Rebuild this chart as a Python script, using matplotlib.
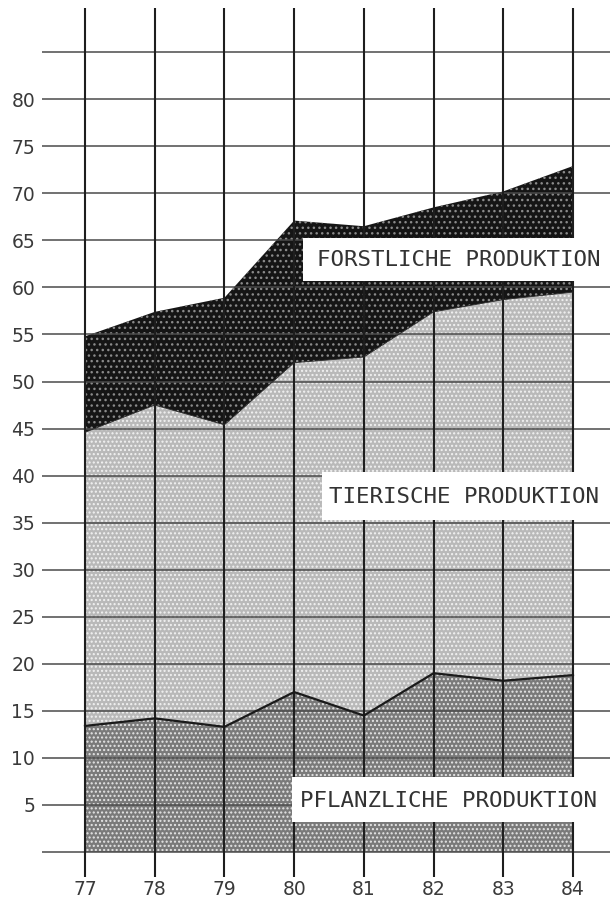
import matplotlib
matplotlib.use("Agg")
import matplotlib.pyplot as plt
from matplotlib.patches import Rectangle
import numpy as np

# ---- data ----
years = [77, 78, 79, 80, 81, 82, 83, 84]
year_labels = ["77", "78", "79", "80", "81", "82", "83", "84"]
pflanzlich_top = [13.4, 14.2, 13.3, 17.0, 14.5, 19.0, 18.2, 18.8]   # cumulative
tierisch_top = [44.6, 47.5, 45.4, 52.0, 52.6, 57.4, 58.7, 59.5]     # cumulative
forst_top = [54.8, 57.4, 58.9, 67.1, 66.5, 68.5, 70.2, 72.9]        # cumulative
y_ticks = [5, 10, 15, 20, 25, 30, 35, 40, 45, 50, 55, 60, 65, 70, 75, 80]
y_grid = [0, 5, 10, 15, 20, 25, 30, 35, 40, 45, 50, 55, 60, 65, 70, 75, 80, 85]
labels = ["FORSTLICHE PRODUKTION", "TIERISCHE PRODUKTION", "PFLANZLICHE PRODUKTION"]

W, H = 610, 901
fig = plt.figure(figsize=(W / 100, H / 100), dpi=100)
fig.patch.set_facecolor("white")

# pixel layout
px_left, px_right = 42, 610
px_bottom, px_top = 877, 5
ax = fig.add_axes([px_left / W, (H - px_bottom) / H,
                   (px_right - px_left) / W, (px_bottom - px_top) / H])

# mapping: 77 -> px 85, 84 -> px 573 ; 0 -> px 852, 9.41 px/unit
xs = (573 - 85) / 7.0
ys = 9.41
def dx(px):
    return 77 + (px - 85) / xs
def dy(py):
    return (852 - py) / ys

ax.set_xlim(dx(px_left), dx(px_right))
ax.set_ylim(dy(px_bottom), dy(px_top))
for s in ax.spines.values():
    s.set_visible(False)
ax.set_facecolor("white")

x = np.array(years, dtype=float)
zeros = np.zeros_like(x)
plt.rcParams["hatch.linewidth"] = 1.0

# fills
ax.fill_between(x, zeros, pflanzlich_top, facecolor="#7a7a7a", edgecolor="#e6e6e6",
                hatch="....", linewidth=0, zorder=1)
ax.fill_between(x, pflanzlich_top, tierisch_top, facecolor="#b9b9b9", edgecolor="#f2f2f2",
                hatch="....", linewidth=0, zorder=1)
ax.fill_between(x, tierisch_top, forst_top, facecolor="#151515", edgecolor="#8a8a8a",
                hatch="...", linewidth=0, zorder=1)

# grid
ax.hlines(y_grid, dx(px_left), dx(px_right), colors="#4a4a4a", linewidth=1.1, zorder=2)
ax.vlines(years, dy(px_bottom), dy(8), colors="#1e1e1e", linewidth=1.5, zorder=2)

# boundary line between pflanzliche and tierische
ax.plot(x, pflanzlich_top, color="#1a1a1a", linewidth=1.6, zorder=3)
ax.plot(x, tierisch_top, color="#2a2a2a", linewidth=0.6, zorder=3)

# ticks
ax.set_yticks(y_ticks)
ax.set_yticklabels([str(v) for v in y_ticks])
ax.set_xticks(years)
ax.set_xticklabels(year_labels)
ax.tick_params(axis="both", length=0, labelsize=13.5, colors="#3a3a3a")
ax.tick_params(axis="y", pad=5)
ax.tick_params(axis="x", pad=2)

# label boxes
mono = "DejaVu Sans Mono"
boxes = [
    (303, 238, 281, 317, 260),
    (322, 472, 520, 329, 497),
    (292, 777, 822, 300, 801),
]
for lab, (bx0, by0, by1, tx, ty) in zip(labels, boxes):
    r = Rectangle((dx(bx0), dy(by1)), dx(px_right) - dx(bx0), dy(by0) - dy(by1),
                  facecolor="white", edgecolor="none", zorder=5, clip_on=False)
    ax.add_patch(r)
    ax.text(dx(tx), dy(ty), lab, family=mono, fontsize=16.2, color="#333333",
            ha="left", va="center", zorder=6)

fig.savefig("out.png", dpi=100, facecolor="white")
